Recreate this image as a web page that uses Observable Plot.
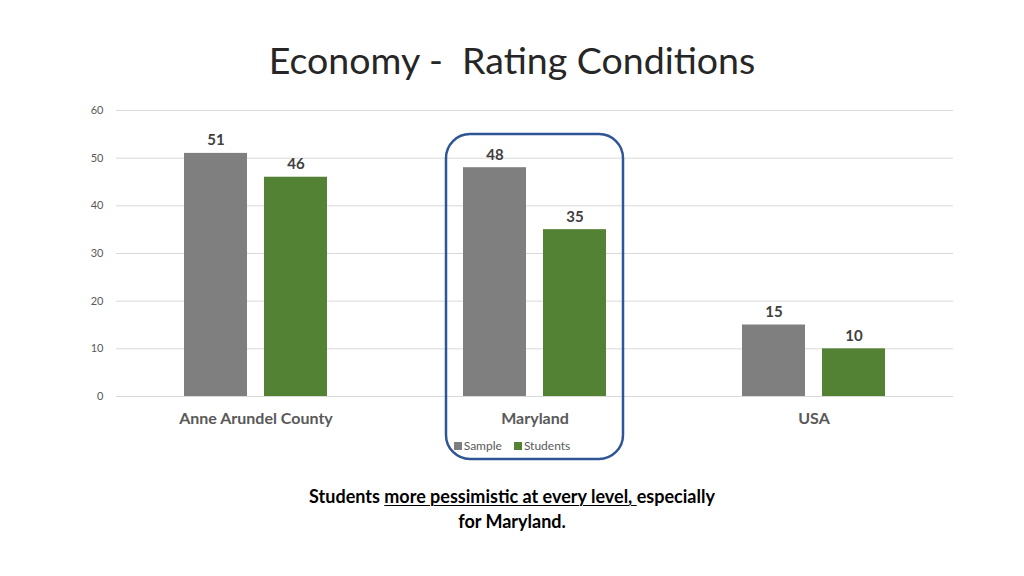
<!DOCTYPE html>
<html>
<head>
<meta charset="utf-8">
<script src="https://cdn.jsdelivr.net/npm/d3@7"></script>
<script src="https://cdn.jsdelivr.net/npm/@observablehq/plot@0.6"></script>
<style>
  html, body { margin: 0; padding: 0; background: #fff; }
  body { width: 1024px; height: 576px; position: relative; overflow: hidden; font-family: Lato, "Open Sans", sans-serif; }
  #title { position: absolute; top: 38px; left: 0; width: 1024px; text-align: center; font-size: 37.5px; color: #262626; white-space: pre; line-height: 44px; }
  #chart { position: absolute; top: 90px; left: 0; }
  #legend { position: absolute; top: 438px; left: 0; width: 1024px; text-align: center; font-size: 12px; color: #595959; }
  #legend span.sw { display: inline-block; width: 8px; height: 8px; margin-right: 2px; vertical-align: 0px; }
  #legend span.item { margin: 0 6px; }
  #caption { position: absolute; top: 484px; left: 0; width: 1024px; text-align: center; font-size: 18px; font-weight: bold; color: #000; line-height: 25px; }
  #caption u { text-decoration-thickness: 1px; text-underline-offset: 2px; }
</style>
</head>
<body>
<div id="title">Economy -  Rating Conditions</div>
<div id="chart"></div>
<div id="legend"></div>
<div id="caption">Students <u>more pessimistic at every level, </u>especially<br>for Maryland.</div>
<script>
const categories = ["Anne Arundel County", "Maryland", "USA"];
const series = ["Sample", "Students"];
const sampleValues = [51, 48, 15];
const studentValues = [46, 35, 10];
const yTicks = [0, 10, 20, 30, 40, 50, 60];
const seriesColors = ["#7f7f7f", "#548235"];
const highlighted = ["Maryland"];

const data = [];
categories.forEach((c, i) => {
  data.push({category: c, series: series[0], value: sampleValues[i]});
  data.push({category: c, series: series[1], value: studentValues[i]});
});

const chart = Plot.plot({
  width: 1024,
  height: 380,
  marginTop: 20,
  marginBottom: 74,
  marginLeft: 115,
  marginRight: 71,
  style: {fontFamily: "Lato, 'Open Sans', sans-serif", background: "transparent", overflow: "visible"},
  fx: {domain: categories, paddingInner: 0, paddingOuter: 0, label: null},
  x: {domain: series, paddingInner: 0.2125, paddingOuter: 0.85, axis: null},
  y: {domain: [0, 60], label: null},
  color: {domain: series, range: seriesColors},
  marks: [
    Plot.gridY(yTicks, {stroke: "#d9d9d9", strokeOpacity: 1, strokeWidth: 1}),
    Plot.axisY(yTicks, {tickSize: 0, tickPadding: 13, fontSize: 11, fill: "#595959", label: null}),
    Plot.axisFx({anchor: "bottom", tickSize: 0, tickPadding: 16, fontSize: 16, fontWeight: "bold", fill: "#595959", label: null}),
    Plot.barY(data, {fx: "category", x: "series", y: "value", fill: "series"}),
    Plot.text(data, {fx: "category", x: "series", y: "value", text: d => String(d.value), lineAnchor: "bottom", dy: -8, fontSize: 15, fontWeight: "bold", fill: "#404040"}),
    Plot.rect(highlighted.map(c => ({category: c})), {fx: "category", fill: "none", stroke: "#2f5597", strokeWidth: 2.5, rx: 24, insetLeft: 51, insetRight: 51, insetTop: 24, insetBottom: -63})
  ]
});
document.getElementById("chart").appendChild(chart);

const legend = document.getElementById("legend");
legend.innerHTML = series.map((s, i) => `<span class="item"><span class="sw" style="background:${seriesColors[i]}"></span>${s}</span>`).join("");
</script>
</body>
</html>
